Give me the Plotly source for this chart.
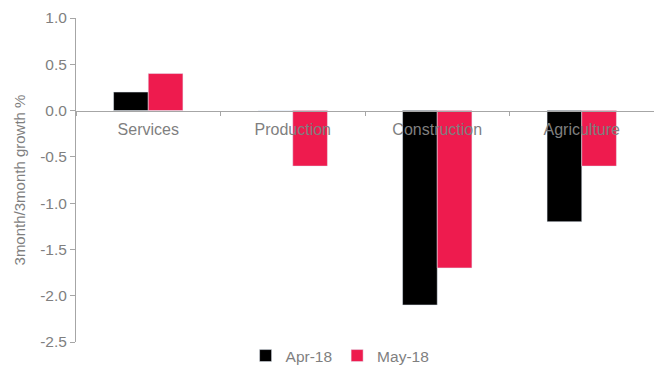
import plotly.graph_objects as go

sectors = ["Services", "Production", "Construction", "Agriculture"]
apr_18 = [0.2, 0.0, -2.1, -1.2]
may_18 = [0.4, -0.6, -1.7, -0.6]
y_ticks = [1.0, 0.5, 0.0, -0.5, -1.0, -1.5, -2.0, -2.5]

y_min, y_max = -2.5, 1.0
zero_pos = (0 - y_min) / (y_max - y_min)

fig = go.Figure()
fig.add_trace(go.Bar(x=sectors, y=apr_18, name="Apr-18", marker_color="#000000"))
fig.add_trace(go.Bar(x=sectors, y=may_18, name="May-18", marker_color="#EE1B4E"))

axis_grey = "#A6A6A6"
text_grey = "#7F7F7F"

fig.update_layout(
    width=654, height=367,
    margin=dict(l=76, r=0, t=18, b=25, autoexpand=False),
    plot_bgcolor="white", paper_bgcolor="white",
    barmode="group", bargap=0.52, bargroupgap=0,
    font=dict(family="Liberation Sans, Arial", size=15, color=text_grey),
    showlegend=True,
    legend=dict(orientation="h", x=0.52, xanchor="center", xref="container",
                y=0.03, yanchor="middle", yref="container",
                font=dict(size=15.5, color=text_grey), itemwidth=30,
                traceorder="normal"),
    xaxis=dict(anchor="free", position=zero_pos, showline=True, linecolor=axis_grey,
               linewidth=1, ticks="outside", tickson="boundaries", ticklen=4,
               tickcolor=axis_grey, showgrid=False, ticklabelstandoff=4,
               tickfont=dict(size=16, color=text_grey)),
    yaxis=dict(range=[y_min, y_max], tickvals=y_ticks,
               ticktext=[f"{v:.1f}" for v in y_ticks], showline=True,
               linecolor=axis_grey, linewidth=1, ticks="outside", ticklen=5,
               tickcolor=axis_grey, showgrid=False, zeroline=False,
               title=dict(text="3month/3month growth %", font=dict(size=15, color=text_grey),
                          standoff=10),
               tickfont=dict(size=15.5, color=text_grey)),
)

fig.write_html("out.html")
